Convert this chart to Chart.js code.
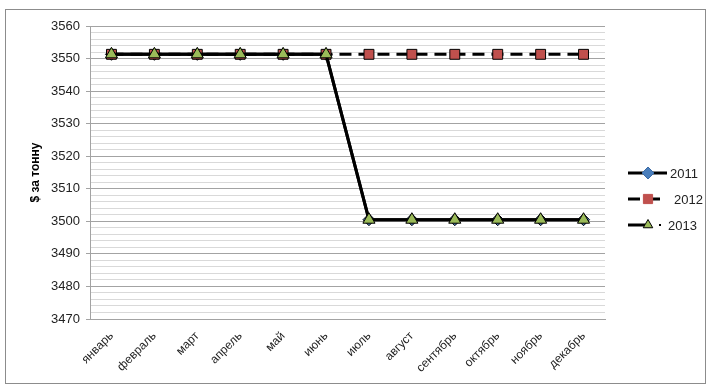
<!DOCTYPE html>
<html>
<head>
<meta charset="utf-8">
<script src="https://cdn.jsdelivr.net/npm/chart.js@4/dist/chart.umd.min.js"></script>
<style>
  html, body { margin: 0; padding: 0; background: #ffffff; }
  #wrap { position: relative; width: 707px; height: 385px; }
  #frame { position: absolute; left: 5px; top: 9px; width: 699px; height: 373px; border: 1px solid #8c8c8c; pointer-events: none; }
  canvas { position: absolute; left: 0; top: 0; }
</style>
</head>
<body>
<div id="wrap">
  <canvas id="c" width="707" height="385"></canvas>
  <div id="frame"></div>
</div>
<script>
// Monthly aluminium price, $ per tonne
const months = ['январь', 'февраль', 'март', 'апрель', 'май', 'июнь',
                'июль', 'август', 'сентябрь', 'октябрь', 'ноябрь', 'декабрь'];
const price2011 = [3551.3, 3551.3, 3551.3, 3551.3, 3551.3, 3551.3,
                   3500.5, 3500.5, 3500.5, 3500.5, 3500.5, 3500.5];
const price2012 = [3551.3, 3551.3, 3551.3, 3551.3, 3551.3, 3551.3,
                   3551.3, 3551.3, 3551.3, 3551.3, 3551.3, 3551.3];
const price2013 = [3551.3, 3551.3, 3551.3, 3551.3, 3551.3, 3551.3,
                   3500.5, 3500.5, 3500.5, 3500.5, 3500.5, 3500.5];
const yearNames = ['2011', '2012', '2013'];

const FONT = '"Liberation Sans", Arial, sans-serif';
const MAJOR = '#a3a3a3';
const MINOR = '#d9d9d9';

// 'order': the highest value is painted first, so 2013 ends up on top
const datasets = [
  { label: yearNames[0], data: price2011, order: 3, borderColor: '#000', borderWidth: 3,
    pointStyle: 'rectRot', pointRadius: 6, pointBackgroundColor: '#4a7ebb',
    pointBorderColor: '#000', pointBorderWidth: 1 },
  { label: yearNames[1], data: price2012, order: 2, borderColor: '#000', borderWidth: 3, borderDash: [12, 7],
    pointStyle: 'rect', pointRadius: 7, pointBackgroundColor: '#c0504d',
    pointBorderColor: '#000', pointBorderWidth: 1 },
  { label: yearNames[2], data: price2013, order: 1, borderColor: '#000', borderWidth: 3,
    pointStyle: 'triangle', pointRadius: 7, pointBackgroundColor: '#9bbb59',
    pointBorderColor: '#000', pointBorderWidth: 1 }
];

// Legend on the right: line sample with the marker in the middle
const sideLegend = {
  id: 'sideLegend',
  afterDraw(chart) {
    const ctx = chart.ctx;
    const rows = [173, 199, 225];
    const textX = [670, 674, 668];
    const markerR = [6, 6.5, 5.5];
    ctx.save();
    chart.data.datasets.forEach((ds, i) => {
      const y = rows[i];
      ctx.strokeStyle = '#000';
      ctx.lineWidth = 3;
      ctx.setLineDash([]);
      ctx.beginPath();
      if (i === 0) {
        ctx.moveTo(628, y); ctx.lineTo(667, y);
      } else if (i === 1) {
        ctx.moveTo(628, y); ctx.lineTo(640, y);
        ctx.moveTo(652, y); ctx.lineTo(660, y);
      } else {
        ctx.moveTo(628, y); ctx.lineTo(645, y);
      }
      ctx.stroke();
      if (i === 2) {
        ctx.fillStyle = '#000';
        ctx.fillRect(659, y - 1, 2, 2);
      }
      ctx.fillStyle = ds.pointBackgroundColor;
      ctx.strokeStyle = i === 0 ? '#3a6aa5' : (i === 1 ? '#c0504d' : '#000');
      ctx.lineWidth = 1;
      Chart.helpers.drawPoint(ctx, {
        pointStyle: ds.pointStyle, radius: markerR[i], rotation: 0, borderWidth: 1
      }, 648, y);
      ctx.fillStyle = '#222';
      ctx.font = '13px ' + FONT;
      ctx.textBaseline = 'middle';
      ctx.textAlign = 'left';
      ctx.fillText(ds.label, textX[i], y + 1);
    });
    ctx.restore();
  }
};

new Chart(document.getElementById('c'), {
  type: 'line',
  data: { labels: months, datasets },
  plugins: [sideLegend],
  options: {
    responsive: false,
    animation: false,
    layout: { padding: { left: 24, top: 26, right: 102, bottom: 0 } },
    plugins: { legend: { display: false }, tooltip: { enabled: false } },
    elements: { line: { tension: 0 } },
    scales: {
      x: {
        offset: true,
        grid: { display: false, drawTicks: false },
        border: { display: true, color: MAJOR, width: 1 },
        ticks: {
          minRotation: 45, maxRotation: 45, padding: 10,
          color: '#222', font: { family: FONT, size: 12 }
        },
        afterFit(scale) { scale.height = 66; }
      },
      y: {
        min: 3470, max: 3560,
        border: { display: true, color: MAJOR, width: 1 },
        grid: {
          color: c => (c.tick && Math.round(c.tick.value) % 10 === 0) ? MAJOR : MINOR,
          tickColor: c => (c.tick && Math.round(c.tick.value) % 10 === 0) ? MAJOR : 'rgba(0,0,0,0)',
          tickLength: 4,
          lineWidth: 1
        },
        ticks: {
          stepSize: 2, autoSkip: false, padding: 6,
          color: '#222', font: { family: FONT, size: 13 },
          callback: v => (Math.round(v) % 10 === 0 ? String(Math.round(v)) : '')
        },
        title: {
          display: true, text: '$ за тонну', color: '#000',
          font: { family: FONT, size: 12, weight: 'bold' }
        },
        afterFit(scale) { scale.width = 66; }
      }
    }
  }
});
</script>
</body>
</html>
